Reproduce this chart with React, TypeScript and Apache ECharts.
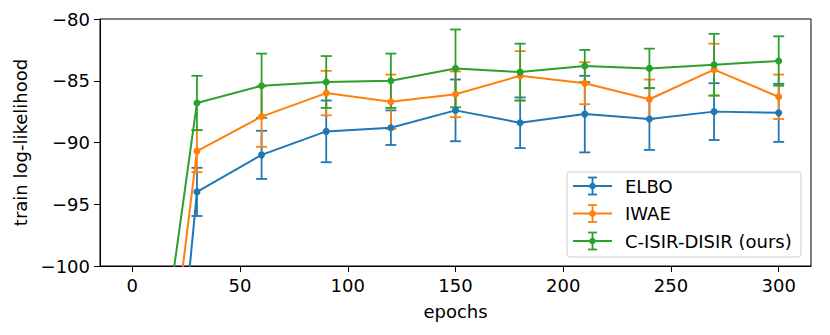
import React, { useEffect, useRef } from "react";
import * as echarts from "echarts";

const epochs = [0, 30, 60, 90, 120, 150, 180, 210, 240, 270, 300];
const elboMean = [-148.5, -94.0, -91.0, -89.1, -88.8, -87.4, -88.4, -87.7, -88.1, -87.5, -87.6];
const elboErr = [5, 1.95, 1.95, 2.5, 1.4, 2.5, 2.05, 3.1, 2.5, 2.3, 2.35];
const iwaeMean = [-133.6, -90.7, -87.9, -86.0, -86.7, -86.1, -84.6, -85.2, -86.5, -84.1, -86.3];
const iwaeErr = [5, 1.7, 2.45, 1.8, 2.2, 1.85, 2.0, 1.7, 1.6, 2.1, 1.8];
const cisirMean = [-124.5, -86.8, -85.4, -85.1, -85.0, -84.0, -84.3, -83.8, -84.0, -83.7, -83.4];
const cisirErr = [5, 2.2, 2.6, 2.1, 2.2, 3.15, 2.3, 1.3, 1.6, 2.5, 2.0];

const xTicks = [0, 50, 100, 150, 200, 250, 300];
const seriesNames = ["ELBO", "IWAE", "C-ISIR-DISIR (ours)"];
const colors = ["#1f77b4", "#ff7f0e", "#2ca02c"];

const FONT = "DejaVu Sans";

function errorSeries(name: string, mean: number[], err: number[], color: string) {
  return {
    type: "custom",
    name: name + " err",
    clip: true,
    data: epochs.map((e, i) => [e, mean[i] - err[i], mean[i] + err[i]]),
    encode: { x: 0, y: [1, 2] },
    renderItem: (params: any, api: any) => {
      const x = api.value(0);
      const lo = api.coord([x, api.value(1)]);
      const hi = api.coord([x, api.value(2)]);
      const w = 5.5;
      const style = { stroke: color, lineWidth: 1.8, fill: "none" };
      return {
        type: "group",
        children: [
          { type: "line", shape: { x1: lo[0], y1: lo[1], x2: hi[0], y2: hi[1] }, style },
          { type: "line", shape: { x1: lo[0] - w, y1: lo[1], x2: lo[0] + w, y2: lo[1] }, style },
          { type: "line", shape: { x1: hi[0] - w, y1: hi[1], x2: hi[0] + w, y2: hi[1] }, style },
        ],
      };
    },
  };
}

function lineSeries(name: string, mean: number[], color: string) {
  return {
    type: "line",
    name,
    data: epochs.map((e, i) => [e, mean[i]]),
    clip: true,
    symbol: "circle",
    symbolSize: 7,
    showSymbol: true,
    itemStyle: { color },
    lineStyle: { color, width: 2 },
  };
}

function legendGraphic() {
  const children: any[] = [
    {
      type: "rect",
      shape: { x: 567, y: 172, width: 234, height: 85, r: 3 },
      style: { fill: "rgba(255,255,255,0.8)", stroke: "#cccccc", lineWidth: 1 },
    },
  ];
  const rows = [186, 213.5, 241];
  seriesNames.forEach((n, i) => {
    const y = rows[i];
    const c = colors[i];
    const cx = 592.5;
    children.push(
      { type: "line", shape: { x1: 573, y1: y, x2: 612, y2: y }, style: { stroke: c, lineWidth: 2 } },
      { type: "line", shape: { x1: cx, y1: y - 8.5, x2: cx, y2: y + 8.5 }, style: { stroke: c, lineWidth: 1.8 } },
      { type: "line", shape: { x1: cx - 4.5, y1: y - 8.5, x2: cx + 4.5, y2: y - 8.5 }, style: { stroke: c, lineWidth: 1.8 } },
      { type: "line", shape: { x1: cx - 4.5, y1: y + 8.5, x2: cx + 4.5, y2: y + 8.5 }, style: { stroke: c, lineWidth: 1.8 } },
      { type: "circle", shape: { cx, cy: y, r: 3.3 }, style: { fill: c } },
      {
        type: "text",
        x: 625,
        y,
        style: { text: n, fill: "#000", font: `18px '${FONT}'`, verticalAlign: "middle", align: "left" },
      }
    );
  });
  return [{ type: "group", children }];
}

export default function App() {
  const ref = useRef<HTMLDivElement>(null);
  useEffect(() => {
    document.body.style.margin = "0";
    if (!ref.current) return;
    const chart = echarts.init(ref.current, null, { renderer: "svg" });
    chart.setOption({
      animation: false,
      backgroundColor: "#fff",
      grid: {
        left: 100,
        right: 19,
        top: 19,
        bottom: 69,
        show: true,
        borderColor: "#000",
        borderWidth: 1,
        backgroundColor: "transparent",
      },
      xAxis: {
        type: "value",
        min: -15,
        max: 315,
        name: "epochs",
        nameLocation: "middle",
        nameGap: 36,
        nameTextStyle: { fontFamily: FONT, fontSize: 18, color: "#000" },
        axisLine: { show: true, onZero: false, lineStyle: { color: "#000", width: 1 } },
        axisTick: { show: true, length: 6, lineStyle: { color: "#000" }, customValues: xTicks },
        axisLabel: {
          fontFamily: FONT,
          fontSize: 18,
          color: "#000",
          margin: 10,
          customValues: xTicks,
        },
        splitLine: { show: false },
      },
      yAxis: {
        type: "value",
        min: -100,
        max: -80,
        interval: 5,
        name: "train log-likelihood",
        nameLocation: "middle",
        nameGap: 66,
        nameTextStyle: { fontFamily: FONT, fontSize: 18, color: "#000" },
        axisLine: { show: true, onZero: false, lineStyle: { color: "#000", width: 1 } },
        axisTick: { show: true, length: 6, lineStyle: { color: "#000" } },
        axisLabel: {
          fontFamily: FONT,
          fontSize: 18,
          color: "#000",
          margin: 10,
          formatter: (v: number) => String(v).replace("-", "\u2212"),
        },
        splitLine: { show: false },
      },
      series: [
        errorSeries(seriesNames[0], elboMean, elboErr, colors[0]),
        lineSeries(seriesNames[0], elboMean, colors[0]),
        errorSeries(seriesNames[1], iwaeMean, iwaeErr, colors[1]),
        lineSeries(seriesNames[1], iwaeMean, colors[1]),
        errorSeries(seriesNames[2], cisirMean, cisirErr, colors[2]),
        lineSeries(seriesNames[2], cisirMean, colors[2]),
      ],
      graphic: legendGraphic(),
    });
    return () => chart.dispose();
  }, []);
  return <div ref={ref} style={{ width: 830, height: 335 }} />;
}
